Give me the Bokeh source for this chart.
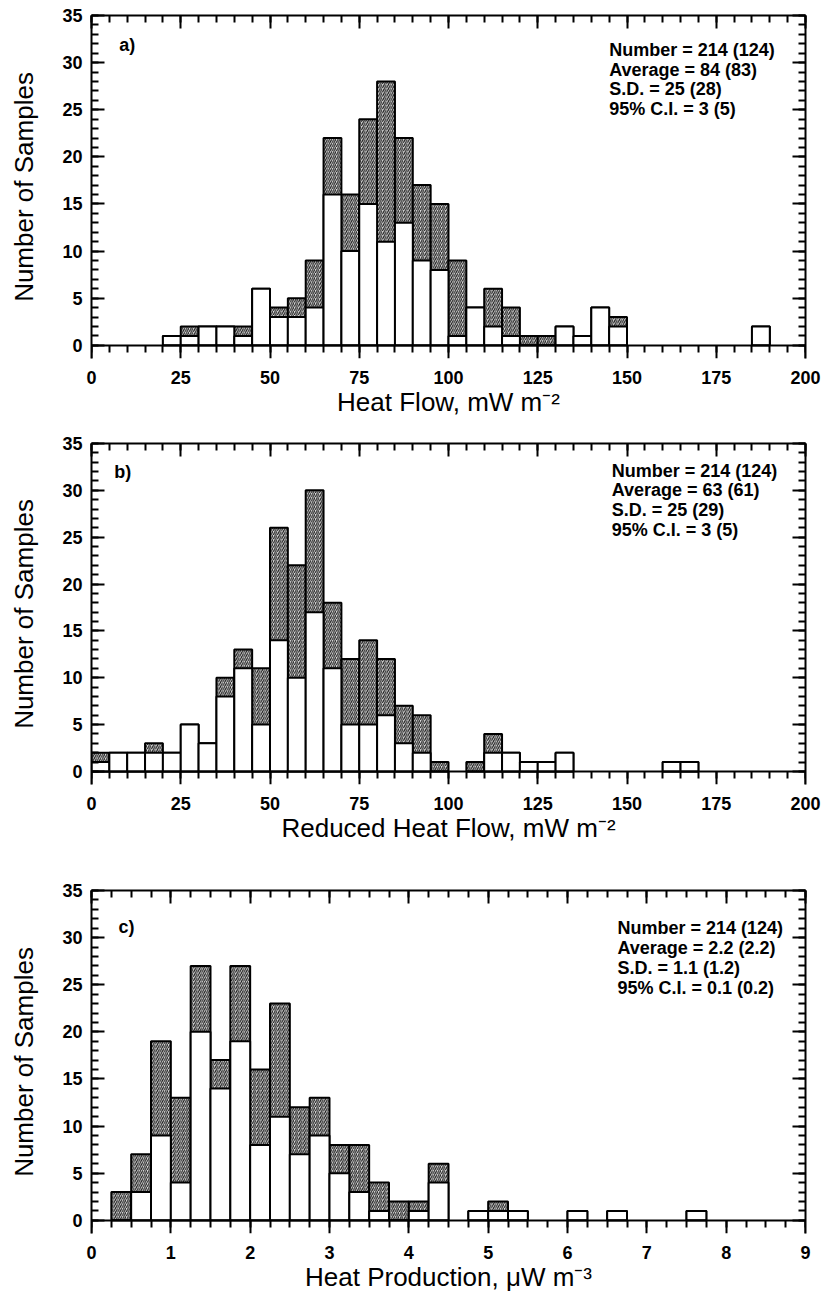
from bokeh.plotting import figure
from bokeh.layouts import column
from bokeh.models import (LinearAxis, FixedTicker, Range1d, ColumnDataSource,
                          CustomLabelingPolicy)
from bokeh.core.properties import value
from bokeh.embed import file_html
from bokeh.resources import INLINE

# ---------------- data ----------------
# a) Heat flow (mW m-2), bin width 5
hf_bin_left = [20, 25, 30, 35, 40, 45, 50, 55, 60, 65, 70, 75, 80, 85, 90, 95,
               100, 105, 110, 115, 120, 125, 130, 135, 140, 145, 185]
hf_total = [1, 2, 2, 2, 2, 6, 4, 5, 9, 22, 16, 24, 28, 22, 17, 15,
            9, 4, 6, 4, 1, 1, 2, 1, 4, 3, 2]
hf_subset = [1, 1, 2, 2, 1, 6, 3, 3, 4, 16, 10, 15, 11, 13, 9, 8,
             1, 4, 2, 1, 0, 0, 2, 1, 4, 2, 2]
hf_bin_width = 5
hf_stats = ["Number = 214 (124)", "Average = 84 (83)", "S.D. = 25 (28)", "95% C.I. = 3 (5)"]

# b) Reduced heat flow (mW m-2), bin width 5
rhf_bin_left = [0, 5, 10, 15, 20, 25, 30, 35, 40, 45, 50, 55, 60, 65, 70, 75,
                80, 85, 90, 95, 105, 110, 115, 120, 125, 130, 160, 165]
rhf_total = [2, 2, 2, 3, 2, 5, 3, 10, 13, 11, 26, 22, 30, 18, 12, 14,
             12, 7, 6, 1, 1, 4, 2, 1, 1, 2, 1, 1]
rhf_subset = [1, 2, 2, 2, 2, 5, 3, 8, 11, 5, 14, 10, 17, 11, 5, 5,
              6, 3, 2, 0, 0, 2, 2, 1, 1, 2, 1, 1]
rhf_bin_width = 5
rhf_stats = ["Number = 214 (124)", "Average = 63 (61)", "S.D. = 25 (29)", "95% C.I. = 3 (5)"]

# c) Heat production (uW m-3), bin width 0.25
hp_bin_left = [0.25, 0.5, 0.75, 1.0, 1.25, 1.5, 1.75, 2.0, 2.25, 2.5, 2.75, 3.0,
               3.25, 3.5, 3.75, 4.0, 4.25, 4.75, 5.0, 5.25, 6.0, 6.5, 7.5]
hp_total = [3, 7, 19, 13, 27, 17, 27, 16, 23, 12, 13, 8,
            8, 4, 2, 2, 6, 1, 2, 1, 1, 1, 1]
hp_subset = [0, 3, 9, 4, 20, 14, 19, 8, 11, 7, 9, 5,
             3, 1, 0, 1, 4, 1, 1, 1, 1, 1, 1]
hp_bin_width = 0.25
hp_stats = ["Number = 214 (124)", "Average = 2.2 (2.2)", "S.D. = 1.1 (1.2)", "95% C.I. = 0.1 (0.2)"]

y_major = [0, 5, 10, 15, 20, 25, 30, 35]
y_minor = list(range(0, 36))

FONT = "Liberation Sans"

NO_LABELS = "for (const i of indices) { indices.unset(i) }"


def base_style(ax):
    ax.axis_line_width = 2
    ax.axis_line_color = "black"
    ax.major_tick_line_width = 2
    ax.minor_tick_line_width = 2
    ax.major_label_text_font = FONT
    ax.major_label_text_font_style = "bold"
    ax.major_label_text_font_size = "18px"
    ax.major_label_text_color = "black"
    ax.axis_label_text_font = FONT
    ax.axis_label_text_font_style = "normal"
    ax.axis_label_text_color = "black"


def ticks_only(ax, tin, tin_minor):
    base_style(ax)
    ax.major_label_text_font_size = "1px"
    ax.major_label_policy = CustomLabelingPolicy(code=NO_LABELS)
    ax.major_label_standoff = 0
    ax.major_tick_in = tin
    ax.major_tick_out = 0
    ax.minor_tick_in = tin_minor
    ax.minor_tick_out = 0


def make_panel(height, bt, bb, bl, br, x_end, x_major, x_minor,
               bin_left, total, subset, bin_w, xlabel, stats, letter,
               stats_x, stats_y0, stats_dy, letter_x, letter_y):
    p = figure(width=822, height=height, output_backend="svg", toolbar_location=None,
               x_range=Range1d(0, x_end), y_range=Range1d(-1.4, 35),
               x_axis_location=None, y_axis_location=None,
               min_border_top=bt, min_border_bottom=bb, min_border_left=bl, min_border_right=br)
    p.outline_line_color = None
    p.grid.visible = False
    p.background_fill_color = "white"

    src = ColumnDataSource(dict(
        left=bin_left,
        right=[b + bin_w for b in bin_left],
        total=total,
        subset=subset,
    ))
    p.quad(left="left", right="right", bottom=0, top="total", source=src,
           fill_color="#e4e4e4", hatch_pattern="/", hatch_color="#1a1a1a",
           hatch_scale=4.2, hatch_weight=1.1, line_color="black", line_width=2)
    p.quad(left="left", right="right", bottom=0, top="subset", source=src,
           fill_color="white", line_color="black", line_width=2)

    xt = FixedTicker(ticks=x_major, minor_ticks=x_minor)
    yt = FixedTicker(ticks=y_major, minor_ticks=y_minor)

    # x axis line + ticks drawn at y = 0, ticks pointing down
    zero_axis = LinearAxis(ticker=xt, fixed_location=0)
    ticks_only(zero_axis, 13, 7)
    p.add_layout(zero_axis, "above")

    # top frame axis
    top = LinearAxis(ticker=xt)
    ticks_only(top, 13, 7)
    p.add_layout(top, "above")

    # labels of the x axis (below the frame)
    bottom = LinearAxis(ticker=xt, axis_label=xlabel)
    base_style(bottom)
    bottom.axis_line_color = None
    bottom.major_tick_line_color = None
    bottom.minor_tick_line_color = None
    bottom.major_tick_in = 0
    bottom.major_tick_out = 0
    bottom.minor_tick_in = 0
    bottom.minor_tick_out = 0
    bottom.major_label_standoff = 12
    bottom.axis_label_standoff = 0
    bottom.axis_label_text_font_size = "26px"
    p.add_layout(bottom, "below")

    left = LinearAxis(ticker=yt, axis_label="Number of Samples")
    base_style(left)
    left.major_tick_in = 13
    left.major_tick_out = 0
    left.minor_tick_in = 7
    left.minor_tick_out = 0
    left.major_label_standoff = 9
    left.axis_label_standoff = 20
    left.axis_label_text_font_size = "26px"
    p.add_layout(left, "left")

    right = LinearAxis(ticker=yt)
    ticks_only(right, 13, 7)
    p.add_layout(right, "right")

    ys = [stats_y0 - i * stats_dy for i in range(len(stats))]
    p.text(x=[stats_x] * len(stats), y=ys, text=stats,
           text_font=value(FONT), text_font_style="bold", text_font_size="18px",
           text_baseline="middle", text_align="left", text_color="black")
    p.text(x=[letter_x], y=[letter_y], text=[letter],
           text_font=value(FONT), text_font_style="bold", text_font_size="18px",
           text_baseline="middle", text_align="left", text_color="black")
    return p


pa = make_panel(430, 15, 72, 85, 17, 200, list(range(0, 201, 25)), list(range(0, 201, 5)),
                hf_bin_left, hf_total, hf_subset, hf_bin_width,
                "Heat Flow, mW m\u207b\u00b2", hf_stats, "a)",
                145, 31.3, 2.07, 7.8, 31.9)

pb = make_panel(425, 13, 71, 84, 15, 200, list(range(0, 201, 25)), list(range(0, 201, 5)),
                rhf_bin_left, rhf_total, rhf_subset, rhf_bin_width,
                "Reduced Heat Flow, mW m\u207b\u00b2", rhf_stats, "b)",
                145.7, 32.1, 2.1, 6.4, 32.0)

pc = make_panel(445, 35, 67, 91, 11, 9, list(range(0, 10)), [i * 0.25 for i in range(0, 37)],
                hp_bin_left, hp_total, hp_subset, hp_bin_width,
                "Heat Production, \u03bcW m\u207b\u00b3", hp_stats, "c)",
                6.63, 31.0, 2.1, 0.34, 31.1)

layout = column(pa, pb, pc, spacing=0)
open("out.html", "w").write(file_html(layout, INLINE))
